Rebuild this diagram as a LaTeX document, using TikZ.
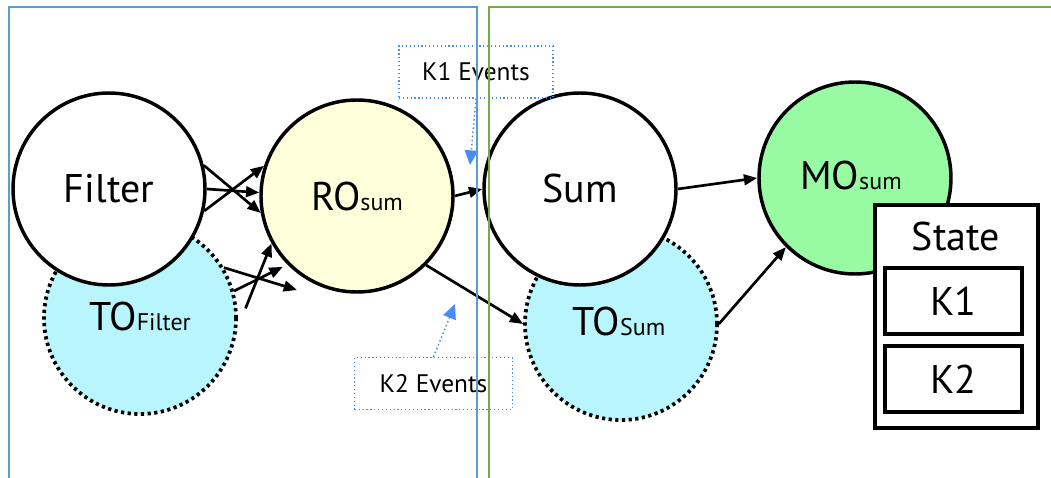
\documentclass[tikz,border=0pt]{standalone}
\usepackage{fontspec}
\setmainfont{PT Sans}
\usetikzlibrary{arrows.meta,calc}
\definecolor{frameblue}{HTML}{5B9BD5}
\definecolor{framegreen}{HTML}{70AD47}
\definecolor{evblue}{HTML}{4A8CF0}
\definecolor{tofill}{HTML}{B8F5FC}
\definecolor{rofill}{HTML}{FFFFDC}
\definecolor{mofill}{HTML}{98FBA4}
\newcommand\fsz[1]{\fontsize{#1pt}{#1pt}\selectfont}
\newcommand\opsub[1]{{\fsz{18}#1}}
\begin{document}
\begin{tikzpicture}[x=0.75pt,y=-0.75pt,
  opnode/.style={circle,draw=black,line width=2.6pt,minimum size=144pt,inner sep=0pt,font=\fsz{30}},
  timernode/.style={opnode,fill=tofill,line width=2.8pt,dash pattern=on 2.4pt off 2.6pt},
  flow/.style={-{Triangle[length=10pt,width=8pt]},line width=2pt},
  evbox/.style={draw=evblue,dotted,line width=0.9pt,minimum height=39pt,inner sep=0pt,font=\fsz{19}},
  evarrow/.style={draw=evblue,dotted,line width=1.1pt,-{Triangle[length=11pt,width=10pt]}},
  keybox/.style={draw,line width=2.8pt,minimum width=103pt,minimum height=49.5pt,font=\fsz{30}},
  frame/.style={line width=1.7pt}]
\useasboundingbox (0,0) rectangle (1051,478);

% timer operators (behind the operator circles)
\node[timernode] (tof) at (140,318) {};
\node[font=\fsz{30}] (toflabel) at (140,316) {TO\opsub{Filter}};
\node[timernode] (tos) at (621,324) {};
\node[font=\fsz{30}] (toslabel) at (619,321) {TO\opsub{Sum}};

% operators
\node[opnode,fill=white] (filter) at (109,189) {Filter};
\node[opnode,fill=white] (sum) at (580,189) {Sum};
\node[opnode,fill=rofill] (ro) at (357,196) {RO\opsub{sum}};
\node[opnode,fill=mofill] (mo) at (855,178) {};
\node[font=\fsz{30}] (molabel) at (851,176) {MO\opsub{sum}};

% keyed state
\node[draw,line width=3pt,fill=white,minimum width=122pt,minimum height=167pt] (state) at (956.5,316.5) {};
\node[font=\fsz{30}] (statelabel) at (956,236) {State};
\node[keybox] (k1) at (953.5,301) {K1};
\node[keybox] (k2) at (953.5,379) {K2};

% Filter -> RO
\draw[flow] (filter.14) -- (ro.190);
\draw[flow] (filter.east) -- (ro.178);
\draw[flow] (filter.-13) -- (ro.162);
% TO_Filter -> RO
\coordinate (tofend) at ($(ro.center)+(-60,94)$);
\draw[flow] (tof.31) -- (tofend);
\draw[flow] (tof.16) -- ($(ro.224)+(-4,3)$);
\draw[flow] ($(tof.5)+(8,-1)$) -- (ro.209);
% RO -> downstream
\draw[flow] (ro.east) -- (sum.west);
\draw[flow] (ro.-45) -- (tos.west);
\draw[flow] (sum.east) -- (mo.west);
\draw[flow] (tos.east) -- (mo.225);

% event annotations
\node[evbox,minimum width=115.5pt] (k1ev) at (476,72) {K1 Events};
\node[evbox,minimum width=118pt] (k2ev) at (433.5,383.5) {K2 Events};
\coordinate (k1tip) at (470,165);
\coordinate (k2tip) at (455,304);
\draw[evarrow] (k1ev.south) -- (k1tip);
\draw[evarrow] (k2ev.north) -- (k2tip);

% task frames
\draw[frame,frameblue] (9,478) -- (9,7) -- (477,7) -- (477,478);
\draw[frame,framegreen] (489,478) -- (489,7) -- (1055,7);
\end{tikzpicture}
\end{document}
